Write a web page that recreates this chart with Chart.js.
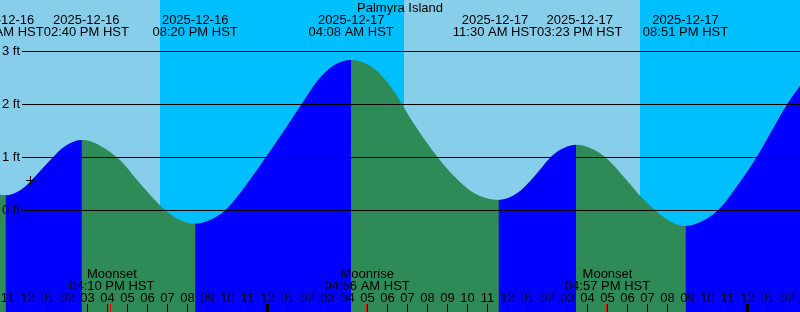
<!DOCTYPE html>
<html>
<head>
<meta charset="utf-8">
<script src="https://cdn.jsdelivr.net/npm/chart.js@4.4.1/dist/chart.umd.min.js"></script>
<style>
  html, body { margin: 0; padding: 0; }
  #wrap { width: 800px; height: 312px; position: relative; }
</style>
</head>
<body>
<div id="wrap"><canvas id="tide"></canvas></div>
<script>
const title = 'Palmyra Island'

// hours after 2025-12-16 00:00 HST -> water level in ft
const curveHours = [
  10.575, 10.85, 11.575, 12.075, 12.575, 13.24, 13.74, 14.667,
  15.075, 16.49, 17.575, 18.825, 19.575, 20.333,
  21.075, 21.85, 23.875, 25.66, 26.41, 27.24, 28.133,
  29.075, 29.825, 30.675, 31.075, 32.575, 33.575, 34.24, 34.91, 35.5,
  36.41, 37.24, 38.075, 38.575, 39.383,
  40.24, 40.94, 41.91, 42.575, 43.325, 44.075, 44.85,
  45.575, 46.49, 47.24, 48.41, 49.94, 50.575
]
const curveFeet = [
  0.29, 0.28, 0.37, 0.53, 0.73, 1.0, 1.18, 1.32,
  1.30, 0.97, 0.50, 0.0, -0.19, -0.26,
  -0.19, 0.0, 1.0, 2.0, 2.42, 2.72, 2.83,
  2.72, 2.46, 2.0, 1.74, 0.94, 0.53, 0.33, 0.22, 0.19,
  0.31, 0.61, 0.98, 1.13, 1.23,
  1.14, 0.96, 0.56, 0.27, 0.0, -0.21, -0.30,
  -0.23, 0.0, 0.35, 1.0, 2.0, 2.34
]

// highs and lows
const tideHours = [10.85, 14.667, 20.333, 28.133, 35.5, 39.383, 44.85]
const tideDates = ['2025-12-16', '2025-12-16', '2025-12-16', '2025-12-17', '2025-12-17', '2025-12-17', '2025-12-17']
const tideClock = ['10:51 AM HST', '02:40 PM HST', '08:20 PM HST', '04:08 AM HST', '11:30 AM HST', '03:23 PM HST', '08:51 PM HST']

const moonHours = [16.167, 28.933, 40.95]
const moonNames = ['Moonset', 'Moonrise', 'Moonset']
const moonClock = ['04:10 PM HST', '04:56 AM HST', '04:57 PM HST']

const sunHours = [18.583, 30.783, 42.583]
const sunKinds = ['set', 'rise', 'set']

const firstHour = 11
const hourLabels = ['11', '12', '01', '02', '03', '04', '05', '06', '07', '08', '09', '10',
  '11', '12', '01', '02', '03', '04', '05', '06', '07', '08', '09', '10',
  '11', '12', '01', '02', '03', '04', '05', '06', '07', '08', '09', '10',
  '11', '12', '01', '02']

const levelTicks = [0, 1, 2, 3]
const levelLabels = ['0 ft', '1 ft', '2 ft', '3 ft']

const nowHour = 12.1
const nowFeet = 0.556

const xMin = 10.575
const xMax = 50.575
const yMin = -102 / 53
const yMax = 210 / 53

const FONT = '13px "Liberation Sans", Arial, sans-serif'
const DAY = '#87ceeb'
const NIGHT = '#00bfff'
const RISE = '#0000ff'
const FALL = '#2e8b57'

const skyPlugin = {
  id: 'sky',
  beforeDraw(chart) {
    const { ctx, chartArea: a, scales: { x } } = chart
    const edges = [xMin, ...sunHours, xMax]
    ctx.save()
    for (let i = 0; i < edges.length - 1; i++) {
      ctx.fillStyle = sunKinds[i] === 'set' ? DAY : NIGHT
      const x0 = Math.round(x.getPixelForValue(edges[i]))
      const x1 = Math.round(x.getPixelForValue(edges[i + 1]))
      ctx.fillRect(x0, a.top, x1 - x0, a.bottom - a.top)
    }
    ctx.restore()
  }
}

const textPlugin = {
  id: 'texts',
  afterDatasetsDraw(chart) {
    const { ctx, chartArea: a, scales: { x, y } } = chart
    ctx.save()
    ctx.font = FONT
    ctx.fillStyle = '#000'
    ctx.strokeStyle = '#000'
    ctx.lineWidth = 1

    // level lines
    levelTicks.forEach((v, i) => {
      const py = Math.round(y.getPixelForValue(v))
      ctx.beginPath()
      ctx.moveTo(22, py + 0.5)
      ctx.lineTo(a.right, py + 0.5)
      ctx.stroke()
      ctx.textAlign = 'left'
      ctx.fillText(levelLabels[i], 2, py + 4)
    })

    ctx.textAlign = 'center'
    ctx.fillText(title, 400, 12)

    // tide labels, pushed apart when they collide
    const centers = tideHours.map(h => x.getPixelForValue(h))
    const widths = tideHours.map((h, i) => Math.max(ctx.measureText(tideDates[i]).width, ctx.measureText(tideClock[i]).width))
    for (let i = 1; i < centers.length; i++) {
      const need = (widths[i - 1] + widths[i]) / 2
      const gap = centers[i] - centers[i - 1]
      if (gap < need) {
        const s = (need - gap) / 2
        centers[i - 1] -= s
        centers[i] += s
      }
    }
    centers.forEach((c, i) => {
      ctx.fillText(tideDates[i], c, 24)
      ctx.fillText(tideClock[i], c, 36)
    })

    // moon
    moonHours.forEach((h, i) => {
      const px = x.getPixelForValue(h)
      ctx.fillText(moonNames[i], px, 278)
      ctx.fillText(moonClock[i], px, 290)
    })

    // hour ticks
    hourLabels.forEach((lab, i) => {
      const h = firstHour + i
      const col = Math.floor(x.getPixelForValue(h)) - 1
      ctx.fillText(lab, col + 0.5, 302)
      if (h % 24 === 0) ctx.fillRect(col - 1, 304, 3, 8)
      else ctx.fillRect(col, 304, 1, 8)
    })

    ctx.fillStyle = '#ff0000'
    moonHours.forEach(h => {
      const col = Math.floor(x.getPixelForValue(h)) - 1
      ctx.fillRect(col, 304, 1, 8)
    })
    ctx.restore()
  }
}

const points = curveHours.map((h, i) => ({ x: h, y: curveFeet[i] }))
const rising = c => c.p1.parsed.y > c.p0.parsed.y

new Chart(document.getElementById('tide'), {
  type: 'line',
  data: {
    datasets: [
      {
        // rising water, painted over the falling fill
        data: points,
        fill: 'start',
        borderWidth: 0,
        borderColor: 'rgba(0,0,0,0)',
        backgroundColor: RISE,
        pointRadius: 0,
        cubicInterpolationMode: 'monotone',
        segment: {
          backgroundColor: c => rising(c) ? RISE : 'rgba(0,0,0,0)'
        }
      },
      {
        data: points,
        fill: 'start',
        borderWidth: 0,
        borderColor: 'rgba(0,0,0,0)',
        backgroundColor: FALL,
        pointRadius: 0,
        cubicInterpolationMode: 'monotone'
      },
      {
        type: 'scatter',
        order: -1,
        data: [{ x: nowHour, y: nowFeet }],
        pointStyle: 'cross',
        pointRadius: 4.5,
        borderColor: '#000',
        borderWidth: 1
      }
    ]
  },
  options: {
    responsive: true,
    maintainAspectRatio: false,
    animation: false,
    events: [],
    layout: { padding: 0, autoPadding: false },
    plugins: { legend: { display: false }, tooltip: { enabled: false } },
    scales: {
      x: { type: 'linear', min: xMin, max: xMax, display: false },
      y: { min: yMin, max: yMax, display: false }
    }
  },
  plugins: [skyPlugin, textPlugin]
})
</script>
</body>
</html>
